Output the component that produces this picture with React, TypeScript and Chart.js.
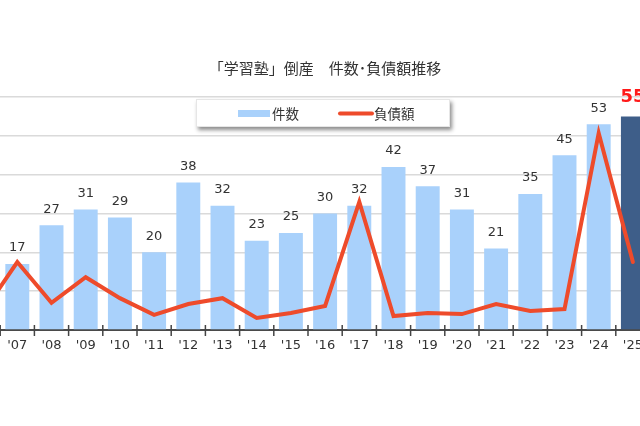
import React, { useEffect, useRef } from "react";
import { Chart, registerables } from "chart.js";

Chart.register(...registerables);

const years = ["'06", "'07", "'08", "'09", "'10", "'11", "'12", "'13", "'14", "'15", "'16", "'17", "'18", "'19", "'20", "'21", "'22", "'23", "'24", "'25"];
const caseCounts = [14, 17, 27, 31, 29, 20, 38, 32, 23, 25, 30, 32, 42, 37, 31, 21, 35, 45, 53, 55];
const debtValues = [4.6, 17.5, 7.0, 13.6, 8.2, 3.9, 6.7, 8.2, 3.1, 4.4, 6.2, 33.0, 3.6, 4.4, 4.1, 6.7, 4.9, 5.4, 50.7, 17.5];
const yMax = 60;
const yStep = 10;

const TITLE = "「学習塾」倒産　件数･負債額推移";
const LEGEND_BAR = "件数";
const LEGEND_LINE = "負債額";

const BAR_COLOR = "#a9d1fb";
const BAR_LAST_COLOR = "#3e5e89";
const LINE_COLOR = "#ee4b2b";
const TEXT_COLOR = "#333333";
const OFFSET = 60; // canvas shifted left (chart is a crop)
const CJK = "'Noto Sans CJK JP', 'Noto Sans', sans-serif";
const NUM = "'DejaVu Sans', Verdana, sans-serif";

const decorPlugin = {
  id: "decor",
  afterDatasetsDraw(chart: any) {
    const ctx = chart.ctx;
    const meta = chart.getDatasetMeta(0);
    ctx.save();
    ctx.textAlign = "center";
    ctx.textBaseline = "middle";
    meta.data.forEach((el: any, i: number) => {
      const last = i === caseCounts.length - 1;
      if (last) {
        ctx.fillStyle = "#ff1a1a";
        ctx.font = `bold 18px ${NUM}`;
        ctx.fillText(String(caseCounts[i]), el.x, el.y - 19);
      } else {
        ctx.fillStyle = TEXT_COLOR;
        ctx.font = `13px ${NUM}`;
        ctx.fillText(String(caseCounts[i]), el.x, el.y - 16);
      }
    });
    // tick marks crossing the axis
    const xs = chart.scales.x;
    const area = chart.chartArea;
    const n = years.length;
    const w = (area.right - area.left) / n;
    ctx.strokeStyle = "#444";
    ctx.lineWidth = 1.5;
    for (let i = 1; i < n; i++) {
      const x = xs.left + i * w;
      ctx.beginPath();
      ctx.moveTo(x, area.bottom - 5);
      ctx.lineTo(x, area.bottom + 6);
      ctx.stroke();
    }
    ctx.restore();
  },
  afterDraw(chart: any) {
    const ctx = chart.ctx;
    ctx.save();
    // title
    ctx.fillStyle = TEXT_COLOR;
    ctx.font = `15px ${CJK}`;
    ctx.textAlign = "center";
    ctx.textBaseline = "middle";
    ctx.fillText(TITLE, OFFSET + 325, 68);

    // legend box
    const bx = OFFSET + 196, by = 99, bw = 254, bh = 28;
    ctx.save();
    ctx.shadowColor = "rgba(0,0,0,0.45)";
    ctx.shadowBlur = 4;
    ctx.shadowOffsetX = 2;
    ctx.shadowOffsetY = 3;
    ctx.fillStyle = "#ffffff";
    ctx.fillRect(bx, by, bw, bh);
    ctx.restore();
    ctx.strokeStyle = "#e6e6e6";
    ctx.lineWidth = 1;
    ctx.strokeRect(bx + 0.5, by + 0.5, bw - 1, bh - 1);

    ctx.fillStyle = BAR_COLOR;
    ctx.fillRect(OFFSET + 238, 110, 32, 7);
    ctx.fillStyle = TEXT_COLOR;
    ctx.font = `13.5px ${CJK}`;
    ctx.textAlign = "left";
    ctx.fillText(LEGEND_BAR, OFFSET + 272, 114);

    ctx.strokeStyle = LINE_COLOR;
    ctx.lineWidth = 4;
    ctx.lineCap = "round";
    ctx.beginPath();
    ctx.moveTo(OFFSET + 340, 113.5);
    ctx.lineTo(OFFSET + 372, 113.5);
    ctx.stroke();
    ctx.fillText(LEGEND_LINE, OFFSET + 374, 114);
    ctx.restore();
  },
};

export default function App() {
  const ref = useRef<HTMLCanvasElement>(null);
  useEffect(() => {
    const chart = new Chart(ref.current as HTMLCanvasElement, {
      type: "bar",
      data: {
        labels: years,
        datasets: [
          {
            type: "bar",
            label: LEGEND_BAR,
            data: caseCounts,
            backgroundColor: caseCounts.map((_, i) => (i === caseCounts.length - 1 ? BAR_LAST_COLOR : BAR_COLOR)),
            barPercentage: 0.7,
            categoryPercentage: 1,
            yAxisID: "y",
            order: 2,
          },
          {
            type: "line",
            label: LEGEND_LINE,
            data: debtValues,
            borderColor: LINE_COLOR,
            borderWidth: 4,
            pointRadius: 0,
            tension: 0,
            borderCapStyle: "round",
            borderJoinStyle: "miter",
            yAxisID: "y1",
            order: 1,
          } as any,
        ],
      },
      options: {
        animation: false,
        responsive: true,
        maintainAspectRatio: false,
        layout: { padding: { left: 26, right: 30, top: 97, bottom: 66 } },
        plugins: {
          legend: { display: false },
          title: { display: false },
          tooltip: { enabled: false },
        },
        scales: {
          x: {
            grid: { display: false },
            border: { display: true, color: "#4a4a4a", width: 2 },
            ticks: {
              color: TEXT_COLOR,
              font: { size: 13, family: NUM },
              padding: 0,
              autoSkip: false,
              maxRotation: 0,
            },
            afterFit: (s: any) => {
              s.height = 30;
            },
          },
          y: {
            min: 0,
            max: yMax,
            ticks: { display: false, stepSize: yStep },
            grid: { color: "#dadada", lineWidth: 1.5, drawTicks: false },
            border: { display: false },
            afterFit: (s: any) => {
              s.width = 0;
            },
          },
          y1: {
            display: false,
            min: 0,
            max: yMax,
            position: "right",
          },
        },
      },
      plugins: [decorPlugin],
    });
    return () => chart.destroy();
  }, []);

  return (
    <div style={{ position: "fixed", left: 0, top: 0, width: 640, height: 426, overflow: "hidden", background: "#fff" }}>
      <div style={{ position: "absolute", left: -OFFSET, top: 0, width: 640 + 100, height: 426 }}>
        <canvas ref={ref} />
      </div>
    </div>
  );
}
